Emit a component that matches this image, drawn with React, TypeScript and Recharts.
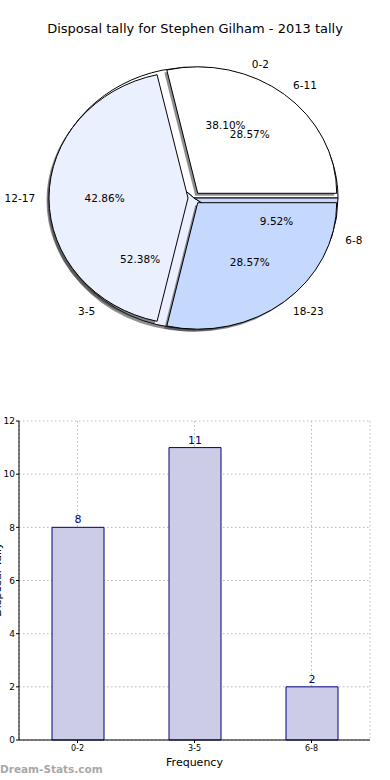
import { Bar, BarChart, CartesianGrid, LabelList, Pie, PieChart, XAxis, YAxis } from 'recharts';

// upper pie: frequency groups (underneath) + minute groups (exploded on top)
const freqNames = ['0-2', '3-5', '6-8'];
const freqValues = [8, 11, 2];
const minuteNames = ['6-11', '12-17', '18-23'];
const minuteValues = [6, 9, 6];
const sliceColors = ['#ffffff', '#eaf0fe', '#c5d8fd'];

const yTicks = [0, 2, 4, 6, 8, 10, 12];

const freqData = freqNames.map((name, i) => ({ name, value: freqValues[i], fill: sliceColors[i] }));
const minuteData = minuteNames.map((name, i) => ({ name, value: minuteValues[i], fill: sliceColors[i] }));

const FONT = '"DejaVu Sans", sans-serif';
const Y_RATIO = 0.91; // the pie is drawn slightly squashed
const EXPLODE = 6;
const RAD = Math.PI / 180;

function wedgePath(cx: number, cy: number, rx: number, a0: number, a1: number) {
  const ry = rx * Y_RATIO;
  const x0 = cx + rx * Math.cos(a0 * RAD);
  const y0 = cy - ry * Math.sin(a0 * RAD);
  const x1 = cx + rx * Math.cos(a1 * RAD);
  const y1 = cy - ry * Math.sin(a1 * RAD);
  const large = Math.abs(a1 - a0) > 180 ? 1 : 0;
  return `M${cx},${cy} L${x0},${y0} A${rx},${ry} 0 ${large} 0 ${x1},${y1} Z`;
}

function offsetOf(mid: number, explode: number) {
  return { dx: explode * Math.cos(mid * RAD), dy: -explode * Math.sin(mid * RAD) };
}

const makeWedge = (explode: number, shadow: boolean) => (p: any) => {
  const mid = (p.startAngle + p.endAngle) / 2;
  const { dx, dy } = offsetOf(mid, explode);
  const d = wedgePath(p.cx + dx, p.cy + dy, p.outerRadius, p.startAngle, p.endAngle);
  if (shadow) {
    return <path d={d} transform="translate(-2.5,2.5)" fill="#333" fillOpacity={0.55} stroke="none" />;
  }
  return <path d={d} fill={p.payload?.fill ?? p.fill} stroke="#000" strokeWidth={1} />;
};

const makeLabel = (explode: number) => (p: any) => {
  const mid = p.midAngle;
  const { dx, dy } = offsetOf(mid, explode);
  const rx = p.outerRadius;
  const ry = rx * Y_RATIO;
  const c = Math.cos(mid * RAD);
  const s = Math.sin(mid * RAD);
  const cx = p.cx + dx;
  const cy = p.cy + dy;
  return (
    <g>
      <text
        x={cx + 1.1 * rx * c}
        y={cy - 1.1 * ry * s}
        textAnchor={c > 0 ? 'start' : 'end'}
        dominantBaseline="central"
        fontSize={10.5}
        fontFamily={FONT}
        fill="#000"
      >
        {p.name}
      </text>
      <text
        x={cx + 0.6 * rx * c}
        y={cy - 0.6 * ry * s}
        textAnchor="middle"
        dominantBaseline="central"
        fontSize={10.5}
        fontFamily={FONT}
        fill="#000"
      >
        {(p.percent * 100).toFixed(2)}%
      </text>
    </g>
  );
};

const pieCommon = {
  dataKey: 'value',
  nameKey: 'name',
  cx: 194,
  cy: 198,
  startAngle: 0,
  endAngle: 360,
  paddingAngle: 0,
  labelLine: false,
  isAnimationActive: false,
};

const R_FREQ = 144;
const R_MINUTE = 139;

export default function App() {
  const barData = freqNames.map((name, i) => ({ name, value: freqValues[i] }));
  const shadowA = makeWedge(0, true);
  const wedgeA = makeWedge(0, false);
  const shadowB = makeWedge(EXPLODE, true);
  const wedgeB = makeWedge(EXPLODE, false);
  const empty = () => <g />;

  return (
    <div style={{ position: 'absolute', left: 0, top: 0, width: 390, height: 780, background: '#fff', overflow: 'hidden', fontFamily: FONT }}>
      <div style={{ position: 'absolute', left: 0, top: 21, width: 390, textAlign: 'center', fontSize: 13, color: '#000' }}>
        Disposal tally for Stephen Gilham - 2013 tally
      </div>

      <div style={{ position: 'absolute', left: 0, top: 0 }}>
        <PieChart width={390} height={390} margin={{ top: 0, right: 0, bottom: 0, left: 0 }}>
          <Pie {...pieCommon} outerRadius={R_FREQ} data={freqData} shape={shadowA} inactiveShape={shadowA} activeShape={shadowA} label={false} />
          <Pie {...pieCommon} outerRadius={R_FREQ} data={freqData} shape={wedgeA} inactiveShape={wedgeA} activeShape={wedgeA} label={false} />
          <Pie {...pieCommon} outerRadius={R_MINUTE} data={minuteData} shape={shadowB} inactiveShape={shadowB} activeShape={shadowB} label={false} />
          <Pie {...pieCommon} outerRadius={R_MINUTE} data={minuteData} shape={wedgeB} inactiveShape={wedgeB} activeShape={wedgeB} label={makeLabel(EXPLODE)} />
          <Pie {...pieCommon} outerRadius={R_FREQ} data={freqData} fill="none" stroke="none" shape={empty} inactiveShape={empty} activeShape={empty} label={makeLabel(0)} />
        </PieChart>
      </div>

      <div style={{ position: 'absolute', left: 0, top: 410 }}>
        <BarChart width={390} height={370} data={barData} margin={{ top: 11, right: 20, bottom: 10, left: 0 }}>
          <CartesianGrid stroke="#b8b8b8" strokeDasharray="1.5 2.5" />
          <XAxis
            dataKey="name"
            height={30}
            axisLine={{ stroke: '#000' }}
            tickLine={{ stroke: '#000' }}
            tickSize={3}
            tick={{ fontSize: 8, fill: '#000', fontFamily: FONT }}
            label={{ value: 'Frequency', position: 'insideBottom', offset: 4, fontSize: 11, fill: '#000', fontFamily: FONT }}
          />
          <XAxis xAxisId="top" orientation="top" dataKey="name" height={0} tick={false} tickLine={false} axisLine={{ stroke: '#000' }} />
          <YAxis
            domain={[0, 12]}
            ticks={yTicks}
            width={19}
            interval={0}
            axisLine={{ stroke: '#000' }}
            tickLine={{ stroke: '#000' }}
            tickSize={3}
            tickMargin={1}
            tick={{ fontSize: 9, fill: '#000', fontFamily: FONT }}
          />
          <YAxis yAxisId="right" orientation="right" domain={[0, 12]} width={0} tick={false} tickLine={false} axisLine={{ stroke: '#000' }} />
          <Bar dataKey="value" fill="#ccccE6" stroke="#000080" strokeWidth={1} barSize={52} isAnimationActive={false}>
            <LabelList dataKey="value" position="top" offset={4} fill="#000080" fontSize={11} fontFamily={FONT} />
          </Bar>
        </BarChart>
      </div>

      <div
        style={{
          position: 'absolute',
          left: -43,
          top: 573,
          width: 80,
          textAlign: 'center',
          fontSize: 11,
          lineHeight: '13px',
          color: '#000',
          transform: 'rotate(-90deg)',
        }}
      >
        Disposal Tally
      </div>

      <div style={{ position: 'absolute', left: 0, top: 763, fontSize: 10.5, fontWeight: 'bold', color: '#a8a8a8' }}>
        Dream-Stats.com
      </div>
    </div>
  );
}
